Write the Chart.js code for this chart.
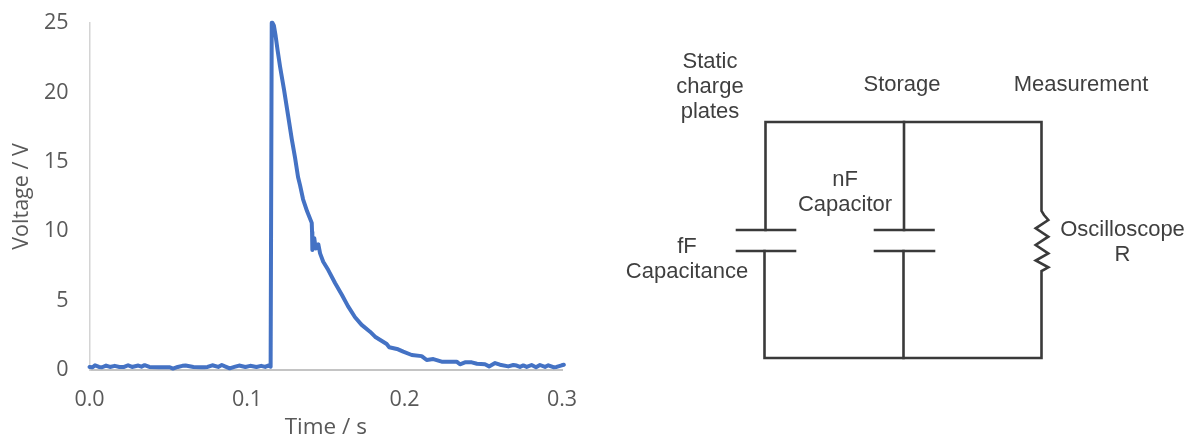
<!DOCTYPE html>
<html><head><meta charset="utf-8">
<script src="https://cdn.jsdelivr.net/npm/chart.js@4"></script>
<style>
html,body{margin:0;padding:0;background:#fff;overflow:hidden}
#a{position:absolute;left:0;top:0}
#b{position:absolute;left:600px;top:0}
</style></head><body>
<canvas id="a" width="600" height="438" style="width:600px;height:438px"></canvas>
<canvas id="b" width="591" height="438" style="width:591px;height:438px"></canvas>
<script>
// Left chart: time (s) and voltage (V)
const timeValues = [0,.002,.0035,.006,.008,.0105,.013,.016,.019,.022,.0245,.027,.031,.033,.035,.038,.044,.051,.053,.056,.059,.061,.066,.071,.073,.075,.078,.0817,.084,.086,.089,.092,.095,.099,.102,.106,.109,.1115,.1135,.1150,.1157,.1161,
.1171,.1182,.1194,.1210,.1235,.1260,.1284,.1305,.1324,.1337,.1356,.1381,.1411,.1413,.1415,.1427,.1436,.1453,.1464,.1484,.1516,.1559,.1603,.1641,.1686,.1728,.1781,.1813,.1887,.1903,.1959,.1992,.2046,.2109,.2141,.2183,.2236,.2331,.2352,.2384,.2427,.2460,.2511,.2537,.2575,.2606,.2659,.2691,.2712,.2733,.2754,.2776,.2807,.2835,.2860,.2892,.2913,.2945,.2966,.2998,.3012];
const voltageValues = [.22,.2,.34,.22,.2,.32,.22,.3,.22,.22,.34,.22,.32,.24,.35,.22,.2,.2,.1,.22,.3,.32,.22,.2,.2,.22,.34,.22,.36,.26,.12,.22,.32,.22,.3,.22,.3,.22,.32,.24,25.02,25.02,
24.8,24.05,23.05,21.85,20.2,18.4,16.65,15.3,13.9,13.3,12.3,11.45,10.6,9.95,8.65,9.5,8.75,9.05,8.4,7.8,7.2,6.27,5.4,4.6,3.8,3.25,2.76,2.4,1.87,1.64,1.49,1.32,1.08,1.0,.72,.79,.6,.6,.41,.55,.55,.45,.41,.26,.5,.38,.26,.36,.32,.22,.33,.22,.36,.2,.36,.22,.34,.2,.22,.34,.38];
const xTicks = [0,0.1,0.2,0.3];
const yTicks = [0,5,10,15,20,25];
const xTitle = 'Time / s';
const yTitle = 'Voltage / V';

// Right diagram: wires as schematic points, labels as text
const wireFrame = [[765.5,230],[765.5,122],[1041.5,122],[1041.5,211],[1044,215],[1048.3,220],[1035.7,228.3],[1048.3,236.7],[1035.7,245],[1048.3,253.3],[1035.7,260.5],[1048.3,267.3],[1041.5,271],[1041.5,358],[764.5,358],[764.5,251]];
const wireStorageTop = [[904,122],[904,230]];
const wireStorageBottom = [[903.5,251],[903.5,358]];
const plateLeftTop = [[737,230],[795,230]];
const plateLeftBottom = [[737,251],[795,251]];
const plateMidTop = [[875,230],[933.5,230]];
const plateMidBottom = [[875,251],[934,251]];
const wires = [wireFrame,wireStorageTop,wireStorageBottom,plateLeftTop,plateLeftBottom,plateMidTop,plateMidBottom];
const labelTexts = ['Static','charge','plates','Storage','Measurement','nF','Capacitor','fF','Capacitance','Oscilloscope','R'];
const labelXs = [710,710,710,902,1081,845,845,687,687,1122.5,1122.5];
const labelYs = [61.5,86.5,111.5,84.5,85,180,205,246.5,271.5,230,255];

Chart.defaults.font.family = '"Open Sans"';
const grey = '#595959';
new Chart(document.getElementById('a'), {
  type: 'scatter',
  data: { datasets: [{ data: timeValues.map((t,i)=>({x:t,y:voltageValues[i]})), showLine:true, borderColor:'#4472C4', backgroundColor:'#4472C4', borderWidth:4, pointRadius:0, tension:0, clip:false, borderJoinStyle:'round', borderCapStyle:'round' }] },
  options: {
    responsive:false, animation:false, devicePixelRatio:1,
    layout:{ padding:{ top:23, right:38, left:0, bottom:0 } },
    plugins:{ legend:{display:false}, tooltip:{enabled:false} },
    scales:{
      x:{ type:'linear', min:0, max:0.3,
        afterBuildTicks:s=>{ s.ticks = xTicks.map(v=>({value:v})); },
        afterFit:s=>{ s.height = 68; s.paddingLeft = 0; s.paddingRight = 0; },
        grid:{ drawOnChartArea:false, drawTicks:false },
        border:{ color:'#c4c4c4', width:2 },
        ticks:{ color:grey, font:{size:21.5}, padding:17, maxRotation:0, callback:v=>v.toFixed(1) },
        title:{ display:true, text:xTitle, color:grey, font:{size:22.5}, padding:{top:0,bottom:-3} } },
      y:{ type:'linear', min:0, max:25,
        afterBuildTicks:s=>{ s.ticks = yTicks.map(v=>({value:v})); },
        afterFit:s=>{ s.width = 89.5; s.paddingTop = 0; s.paddingBottom = 0; },
        grid:{ drawOnChartArea:false, drawTicks:false },
        border:{ color:'#d4d4d4', width:1.5 },
        ticks:{ color:grey, font:{size:21.5}, padding:21, callback:v=>String(v) },
        title:{ display:true, text:yTitle, color:grey, font:{size:21.5}, padding:{top:9,bottom:0} } }
    }
  }
});

const textPlugin = { id:'diagramText', afterDatasetsDraw(c){
  const g=c.ctx; g.save(); g.fillStyle='#3f3f3f'; g.font='22px "Liberation Sans"'; g.textAlign='center'; g.textBaseline='middle';
  labelTexts.forEach((t,i)=>g.fillText(t, c.scales.x.getPixelForValue(labelXs[i]), c.scales.y.getPixelForValue(labelYs[i])));
  g.restore();
}};
new Chart(document.getElementById('b'), {
  type:'scatter',
  data:{ datasets: wires.map(w=>({ data:w.map(p=>({x:p[0],y:p[1]})), showLine:true, borderColor:'#3a3a3a', borderWidth:2.6, pointRadius:0, tension:0, clip:false, borderJoinStyle:'miter', borderCapStyle:'square' })) },
  options:{
    responsive:false, animation:false, devicePixelRatio:1,
    layout:{padding:0},
    plugins:{ legend:{display:false}, tooltip:{enabled:false} },
    scales:{
      x:{ type:'linear', display:false, min:600, max:1191 },
      y:{ type:'linear', display:false, min:0, max:438, reverse:true }
    }
  },
  plugins:[textPlugin]
});
</script>
</body></html>
